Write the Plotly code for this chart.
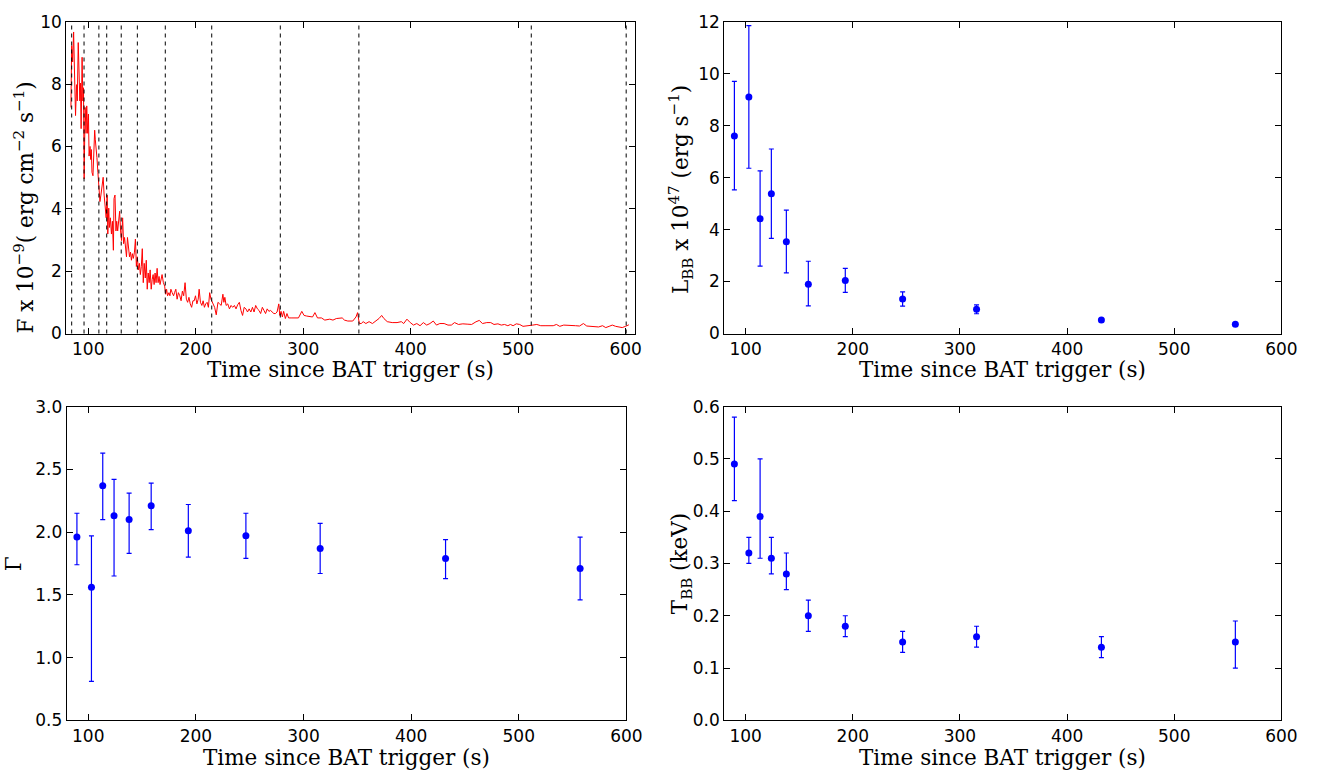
import plotly.graph_objects as go

# ---------------- light curve (top-left) ----------------
lc_time = [
    83.9, 84.6, 85.5, 86.4, 87.3, 88.2, 89.1, 89.8, 90.7, 91.6, 92.2, 92.8, 93.4, 94.3, 95.0, 95.6,
    96.2, 97.1, 98.0, 98.6, 99.5, 100.2, 100.8, 101.7, 102.3, 102.9, 103.5, 104.4, 105.0, 106.0,
    106.6, 107.2, 108.1, 109.0, 109.9, 110.9, 111.8, 113.0, 113.9, 114.8, 115.7, 116.7, 117.6,
    118.2, 119.1, 119.7, 120.6, 121.6, 122.5, 123.4, 124.0, 124.9, 125.8, 126.5, 127.4, 128.3,
    129.2, 130.1, 131.0, 132.0, 132.9, 133.8, 134.7, 135.6, 136.5, 137.5, 138.4, 139.3, 140.2,
    141.1, 142.0, 143.0, 143.9, 144.8, 145.7, 146.6, 147.6, 148.5, 149.4, 150.3, 151.2, 152.1,
    153.1, 154.0, 154.9, 155.8, 156.7, 157.6, 158.6, 159.5, 160.4, 161.3, 162.2, 163.1, 164.1,
    165.0, 165.9, 166.8, 167.7, 168.7, 169.9, 171.1, 172.0, 172.9, 173.8, 175.1, 176.0, 176.9,
    178.1, 179.4, 180.3, 181.5, 182.7, 183.9, 185.2, 186.4, 187.6, 188.8, 190.1, 191.3, 192.5,
    193.7, 194.9, 196.2, 197.4, 198.6, 199.8, 201.1, 202.3, 203.2, 204.4, 205.7, 206.9, 208.1,
    209.3, 210.6, 211.8, 213.0, 214.2, 216.1, 217.6, 219.1, 220.7, 222.2, 223.7, 225.3, 226.2,
    227.1, 228.3, 229.8, 231.4, 232.9, 234.4, 236.0, 237.5, 239.0, 240.6, 242.1, 243.6, 245.1,
    246.7, 248.2, 249.7, 251.3, 252.8, 254.3, 255.8, 257.4, 258.9, 260.4, 262.0, 263.5, 265.0,
    266.5, 268.1, 269.6, 271.1, 272.7, 274.2, 275.7, 277.3, 278.2, 279.4, 280.6, 281.8, 283.4,
    284.9, 286.4, 289.5, 292.5, 295.6, 298.7, 300.8, 303.2, 306.3, 308.7, 310.9, 313.3, 317.0,
    320.1, 324.7, 327.7, 330.8, 333.2, 336.3, 338.4, 341.5, 346.1, 349.1, 350.6, 352.2, 354.0,
    355.8, 358.3, 361.3, 364.4, 367.5, 370.5, 373.0, 375.1, 378.2, 382.8, 387.3, 391.3, 393.5,
    395.0, 396.5, 399.6, 402.6, 405.7, 408.7, 411.8, 414.9, 417.9, 421.0, 424.0, 427.1, 431.1,
    434.7, 437.8, 440.8, 444.5, 448.5, 452.5, 456.7, 460.7, 463.8, 466.8, 470.8, 474.5, 477.5,
    481.2, 484.3, 487.3, 490.4, 492.8, 495.3, 498.3, 501.4, 504.5, 507.5, 510.6, 513.6, 517.3,
    521.0, 525.0, 528.9, 532.6, 535.6, 538.7, 542.4, 546.0, 549.7, 553.4, 557.1, 560.7, 563.8,
    567.8, 571.1, 574.8, 578.5, 581.5, 584.6, 587.6, 590.7, 593.8, 596.8, 599.9, 603.0,
]
lc_flux = [
    7.25, 9.23, 8.71, 9.67, 8.29, 6.99, 7.98, 7.46, 9.33, 7.98, 7.46, 8.03, 6.57, 8.86, 7.46, 7.88,
    4.96, 7.25, 6.42, 7.30, 6.42, 7.04, 5.69, 6.00, 5.58, 5.90, 5.17, 5.06, 5.90, 6.52,
    6.21, 6.05, 5.64, 5.17, 4.54, 4.23, 4.44, 4.75, 5.01, 4.44, 4.02, 3.71, 4.44,
    3.19, 4.02, 3.40, 3.71, 3.19, 3.60, 2.67, 4.33, 4.44, 3.29, 3.60, 3.29, 3.60,
    3.92, 3.29, 2.98, 3.71, 2.88, 3.08, 2.67, 2.46, 3.08, 2.77, 2.46, 2.61, 2.35,
    2.56, 2.41, 2.61, 3.03, 2.15, 2.46, 2.04, 2.25, 1.89, 2.15, 2.72, 1.63, 2.25,
    1.78, 2.35, 1.42, 1.94, 1.63, 2.04, 1.42, 1.73, 1.89, 1.57, 1.94, 1.63, 2.09,
    1.63, 1.83, 1.57, 1.78, 1.89, 1.63, 1.52, 1.26, 1.42, 1.21, 1.31, 1.21, 1.42,
    1.31, 1.21, 1.31, 1.42, 1.10, 1.31, 1.21, 1.05, 1.36, 1.21, 1.63, 1.10, 1.00,
    1.16, 0.95, 0.84, 1.05, 1.05, 1.21, 0.95, 1.10, 1.42, 1.00, 0.90, 1.05, 0.84,
    0.95, 1.00, 0.84, 1.31, 1.10, 0.95, 0.84, 0.60, 1.00, 0.95, 0.90, 1.26, 1.00,
    1.16, 0.90, 0.95, 0.79, 0.90, 0.84, 0.90, 0.79, 0.92, 1.00, 0.74, 0.58, 0.84,
    0.79, 0.69, 0.79, 0.69, 0.84, 0.69, 0.90, 0.79, 0.74, 0.64, 0.84, 0.74, 0.64,
    0.79, 0.71, 0.74, 0.69, 0.64, 0.64, 0.69, 0.95, 0.58, 0.71, 0.53, 0.71, 0.48,
    0.64, 0.50, 0.50, 0.50, 0.50, 0.71, 0.58, 0.56, 0.53, 0.53, 0.67, 0.50, 0.50,
    0.43, 0.46, 0.43, 0.48, 0.48, 0.50, 0.43, 0.40, 0.40, 0.53, 0.67, 0.32, 0.32,
    0.38, 0.32, 0.38, 0.32, 0.40, 0.48, 0.58, 0.48, 0.38, 0.35, 0.35, 0.38, 0.32,
    0.40, 0.46, 0.35, 0.27, 0.32, 0.25, 0.35, 0.27, 0.32, 0.40, 0.27, 0.32, 0.32,
    0.27, 0.27, 0.35, 0.29, 0.31, 0.30, 0.29, 0.375, 0.42, 0.32, 0.35, 0.35, 0.29,
    0.31, 0.27, 0.29, 0.25, 0.29, 0.25, 0.31, 0.29, 0.23, 0.25, 0.27, 0.27, 0.29,
    0.25, 0.25, 0.25, 0.25, 0.29, 0.23, 0.27, 0.27, 0.26, 0.25, 0.24, 0.32, 0.24,
    0.23, 0.23, 0.21, 0.25, 0.19, 0.23, 0.27, 0.23, 0.21, 0.19, 0.23, 0.28,
]
bin_edges = [84.6, 96.1, 109.9, 117.2, 130.7, 145.7, 171.7, 214.9, 278.7, 351.8, 512.2, 600.5]

# ---------------- spectral fit results ----------------
t_mid = [89.5, 103.0, 113.5, 124.0, 138.0, 158.5, 193.0, 246.5, 315.5, 432.0, 557.0]

lbb = [7.60, 9.10, 4.42, 5.38, 3.53, 1.90, 2.04, 1.33, 0.93, 0.52, 0.36]
lbb_hi = [9.70, 11.85, 6.26, 7.10, 4.75, 2.78, 2.51, 1.60, 1.10, 0.58, 0.42]
lbb_lo = [5.53, 6.36, 2.59, 3.66, 2.33, 1.06, 1.58, 1.05, 0.76, 0.46, 0.29]

gamma = [1.96, 1.56, 2.37, 2.13, 2.10, 2.21, 2.01, 1.97, 1.87, 1.79, 1.71]
gamma_hi = [2.15, 1.97, 2.63, 2.42, 2.31, 2.39, 2.22, 2.15, 2.07, 1.94, 1.96]
gamma_lo = [1.74, 0.81, 2.10, 1.65, 1.83, 2.02, 1.80, 1.79, 1.67, 1.63, 1.46]

tbb = [0.49, 0.32, 0.39, 0.31, 0.28, 0.20, 0.18, 0.15, 0.16, 0.14, 0.15]
tbb_hi = [0.58, 0.35, 0.50, 0.35, 0.32, 0.23, 0.20, 0.17, 0.18, 0.16, 0.19]
tbb_lo = [0.42, 0.30, 0.31, 0.28, 0.25, 0.17, 0.16, 0.13, 0.14, 0.12, 0.10]

x_ticks = [100, 200, 300, 400, 500, 600]
xlabel = "Time since BAT trigger (s)"

W, H = 1333, 782
BLUE = "#0000ff"
TICKFONT = dict(family="DejaVu Sans", size=17, color="black")
TITLEFONT = dict(family="DejaVu Serif", size=21.5, color="black")


def px_x(a, b):
    return [a / W, b / W]


def px_y(top, bottom):
    return [1 - bottom / H, 1 - top / H]


fig = go.Figure()

fig.add_trace(go.Scatter(x=lc_time, y=lc_flux, mode="lines",
                         line=dict(color="#ff0000", width=1), xaxis="x", yaxis="y",
                         showlegend=False))


def err_trace(vals, hi, lo, xa, ya):
    plus = [h - v for h, v in zip(hi, vals)]
    minus = [v - l for v, l in zip(vals, lo)]
    return go.Scatter(x=t_mid, y=vals, mode="markers",
                      marker=dict(color=BLUE, size=7),
                      error_y=dict(type="data", array=plus, arrayminus=minus,
                                   color=BLUE, thickness=1.2, width=2.5),
                      xaxis=xa, yaxis=ya, showlegend=False)


fig.add_trace(err_trace(lbb, lbb_hi, lbb_lo, "x2", "y2"))
fig.add_trace(err_trace(gamma, gamma_hi, gamma_lo, "x3", "y3"))
fig.add_trace(err_trace(tbb, tbb_hi, tbb_lo, "x4", "y4"))

for e in bin_edges:
    fig.add_shape(type="line", xref="x", yref="y domain", x0=e, x1=e, y0=0, y1=1,
                  line=dict(color="black", width=1, dash="4px,4px"))

axis_common = dict(showgrid=False, zeroline=False, showline=True, linecolor="black",
                   linewidth=1, mirror="allticks", ticks="inside", ticklen=6,
                   tickcolor="black", tickwidth=1, tickfont=TICKFONT)

fig.update_layout(
    width=W, height=H, margin=dict(l=0, r=0, t=0, b=0),
    paper_bgcolor="white", plot_bgcolor="white", showlegend=False,
    xaxis=dict(domain=px_x(67, 642.5), range=[79.5, 608.5], tickvals=x_ticks,
               anchor="y", **axis_common),
    yaxis=dict(domain=px_y(12, 332), range=[0, 10], tickvals=[0, 2, 4, 6, 8, 10],
               anchor="x", **axis_common),
    xaxis2=dict(domain=px_x(733, 1297), range=[80, 600], tickvals=x_ticks,
                anchor="y2", **axis_common),
    yaxis2=dict(domain=px_y(12, 332), range=[0, 12], tickvals=[0, 2, 4, 6, 8, 10, 12],
                anchor="x2", **axis_common),
    xaxis3=dict(domain=px_x(67.5, 634), range=[80, 600], tickvals=x_ticks,
                anchor="y3", **axis_common),
    yaxis3=dict(domain=px_y(407, 729), range=[0.5, 3.0],
                tickvals=[0.5, 1.0, 1.5, 2.0, 2.5, 3.0], tickformat=".1f",
                anchor="x3", **axis_common),
    xaxis4=dict(domain=px_x(733, 1297), range=[80, 600], tickvals=x_ticks,
                anchor="y4", **axis_common),
    yaxis4=dict(domain=px_y(407, 729), range=[0, 0.6],
                tickvals=[0, 0.1, 0.2, 0.3, 0.4, 0.5, 0.6], tickformat=".1f",
                anchor="x4", **axis_common),
)

annots = [
    dict(text=xlabel, x=355 / W, y=1 - 369 / H),
    dict(text=xlabel, x=1015 / W, y=1 - 369 / H),
    dict(text=xlabel, x=351 / W, y=1 - 767 / H),
    dict(text=xlabel, x=1015 / W, y=1 - 767 / H),
    dict(text="F x 10<sup>−9</sup>( erg cm<sup>−2</sup> s<sup>−1</sup>)",
         x=24 / W, y=1 - 203 / H, textangle=-90),
    dict(text="L<sub>BB</sub> x 10<sup>47</sup> (erg s<sup>−1</sup>)",
         x=690 / W, y=1 - 184 / H, textangle=-90),
    dict(text="Γ", x=14 / W, y=1 - 568 / H, textangle=-90),
    dict(text="T<sub>BB</sub> (keV)", x=690 / W, y=1 - 568 / H, textangle=-90),
]
for a in annots:
    fig.add_annotation(xref="paper", yref="paper", showarrow=False,
                       xanchor="center", yanchor="middle", font=TITLEFONT, **a)

fig.write_html("out.html")
